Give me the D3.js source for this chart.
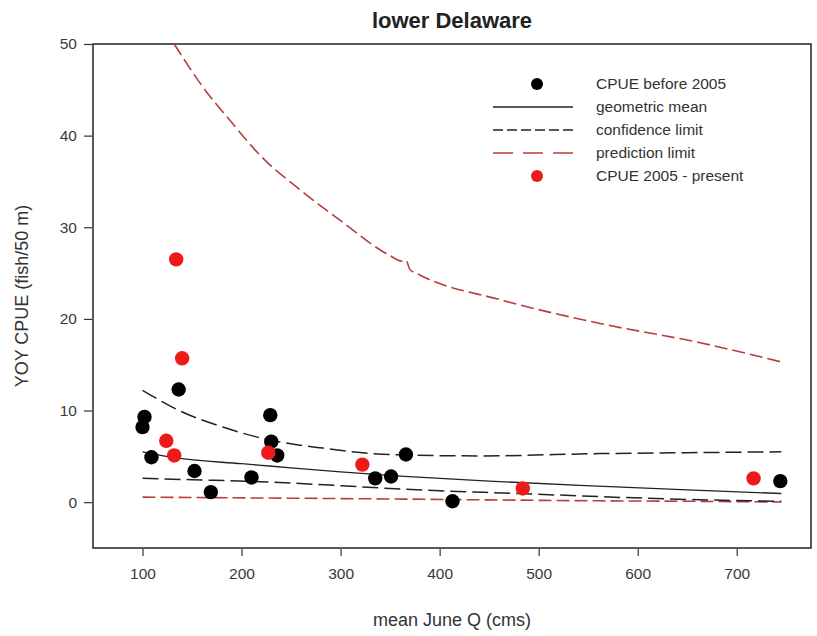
<!DOCTYPE html>
<meta charset="utf-8">
<body style="margin:0;background:#fff">
<div id="chart"></div>
<script src="https://cdn.jsdelivr.net/npm/d3@7"></script>
<script>
// observed CPUE points
const beforeQ = [102, 100, 109, 136.5, 152.5, 169, 210, 229, 230, 236, 335, 351, 366, 413, 744];
const beforeCPUE = [9.3, 8.2, 4.9, 12.3, 3.4, 1.1, 2.7, 9.5, 6.6, 5.1, 2.6, 2.8, 5.2, 0.1, 2.3];
const recentQ = [134, 140, 124, 132, 227, 322, 484, 717];
const recentCPUE = [26.5, 15.7, 6.7, 5.1, 5.4, 4.1, 1.5, 2.6];

// fitted curves
const meanQ = [100, 136, 200, 228, 300, 360, 450, 560, 650, 745];
const meanY = [5.5, 4.8, 4.2, 3.95, 3.3, 2.85, 2.3, 1.75, 1.35, 0.95];
const confQ = [100, 137, 181, 228, 282, 350, 440, 562, 650, 745];
const confUpper = [12.2, 10.0, 8.2, 6.8, 5.9, 5.2, 5.05, 5.3, 5.4, 5.5];
const confLowQ = [100, 150, 228, 300, 350, 400, 480, 562, 650, 745];
const confLower = [2.6, 2.45, 2.2, 1.8, 1.5, 1.25, 0.95, 0.6, 0.3, 0.1];
const predQ = [100, 228, 350, 450, 560, 650, 745];
const predLower = [0.55, 0.45, 0.35, 0.25, 0.15, 0.1, 0.02];
const predUpQ = [132, 161, 188, 221, 259, 299, 350, 362, 366, 370, 380, 461, 562, 663, 745];
const predUpper = [50, 45.3, 41.7, 37.6, 34.1, 30.8, 26.9, 26.3, 26.4, 25.4, 24.8, 22.1, 19.5, 17.4, 15.3];

const xTicks = [100, 200, 300, 400, 500, 600, 700];
const yTicks = [0, 10, 20, 30, 40, 50];
const legendLabels = ["CPUE before 2005", "geometric mean", "confidence limit", "prediction limit", "CPUE 2005 - present"];

const width = 817, height = 636;
const margin = {left: 93, right: 6, top: 44, bottom: 88};
const predColor = "#b53e3e", dotRed = "#ee1a1a";

const svg = d3.select("#chart").append("svg")
    .attr("width", width)
    .attr("height", height)
    .style("font-family", "'Liberation Sans', Arial, sans-serif");

const x = d3.scaleLinear().domain([50, 775]).range([margin.left, width - margin.right]);
const y = d3.scaleLinear().domain([-5, 50]).range([height - margin.bottom, margin.top]);

svg.append("defs").append("clipPath").attr("id", "plot")
  .append("rect")
    .attr("x", x(50)).attr("y", y(50))
    .attr("width", x(775) - x(50)).attr("height", y(-5) - y(50));

// axes
const xAxis = svg.append("g")
    .attr("transform", "translate(0," + (y(-5) + 1) + ")")
    .call(d3.axisBottom(x).tickValues(xTicks).tickSize(7).tickPadding(12));
const yAxis = svg.append("g")
    .attr("transform", "translate(" + (x(50) - 1) + ",0)")
    .call(d3.axisLeft(y).tickValues(yTicks).tickSize(8).tickPadding(7));
[xAxis, yAxis].forEach(a => {
    a.select(".domain").remove();
    a.selectAll("line").attr("stroke", "#333").attr("stroke-width", 1.2);
    a.selectAll("text").style("font-size", "15.5px").attr("fill", "#3a3a3a")
        .style("font-family", "'Liberation Sans', Arial, sans-serif");
});

// frame
svg.append("rect")
    .attr("x", x(50)).attr("y", y(50))
    .attr("width", x(775) - x(50)).attr("height", y(-5) - y(50))
    .attr("fill", "none").attr("stroke", "#222").attr("stroke-width", 1.5);

const line = d3.line().x(d => x(d[0])).y(d => y(d[1])).curve(d3.curveMonotoneX);
const zip = (a, b) => a.map((v, i) => [v, b[i]]);

const plot = svg.append("g").attr("clip-path", "url(#plot)");

const curves = [
    {data: zip(predUpQ, predUpper), color: predColor, dash: "13,5", w: 1.6},
    {data: zip(predQ, predLower), color: predColor, dash: "13,5", w: 1.6},
    {data: zip(confQ, confUpper), color: "#222", dash: "16,6", w: 1.5},
    {data: zip(confLowQ, confLower), color: "#222", dash: "16,6", w: 1.5},
    {data: zip(meanQ, meanY), color: "#222", dash: null, w: 1.3}
];
curves.forEach(c => {
    plot.append("path")
        .attr("d", line(c.data))
        .attr("fill", "none")
        .attr("stroke", c.color)
        .attr("stroke-width", c.w)
        .attr("stroke-dasharray", c.dash);
});

plot.selectAll(".before")
    .data(zip(beforeQ, beforeCPUE))
    .enter().append("circle")
    .attr("cx", d => x(d[0])).attr("cy", d => y(d[1]))
    .attr("r", 7.2).attr("fill", "#000");

plot.selectAll(".recent")
    .data(zip(recentQ, recentCPUE))
    .enter().append("circle")
    .attr("cx", d => x(d[0])).attr("cy", d => y(d[1]))
    .attr("r", 7.2).attr("fill", dotRed);

// titles
svg.append("text")
    .attr("x", (x(50) + x(775)) / 2).attr("y", 28)
    .attr("text-anchor", "middle")
    .style("font-size", "22px").style("font-weight", "bold").attr("fill", "#222")
    .text("lower Delaware");

svg.append("text")
    .attr("x", (x(50) + x(775)) / 2).attr("y", 626)
    .attr("text-anchor", "middle")
    .style("font-size", "18px").attr("fill", "#333")
    .text("mean June Q (cms)");

svg.append("text")
    .attr("transform", "translate(28," + ((y(50) + y(-5)) / 2) + ") rotate(-90)")
    .attr("text-anchor", "middle")
    .style("font-size", "18px").attr("fill", "#333")
    .text("YOY CPUE (fish/50 m)");

// legend
const legend = svg.append("g").attr("transform", "translate(493, 84)");
const rowH = 23;
legend.selectAll("text")
    .data(legendLabels)
    .enter().append("text")
    .attr("x", 103).attr("y", (d, i) => i * rowH + 5)
    .style("font-size", "15.5px").attr("fill", "#333")
    .text(d => d);
legend.append("circle").attr("cx", 44).attr("cy", 0).attr("r", 6).attr("fill", "#000");
legend.append("line").attr("x1", 0).attr("x2", 80).attr("y1", rowH).attr("y2", rowH)
    .attr("stroke", "#222").attr("stroke-width", 1.5);
legend.append("line").attr("x1", 0).attr("x2", 80).attr("y1", rowH * 2).attr("y2", rowH * 2)
    .attr("stroke", "#222").attr("stroke-width", 1.5).attr("stroke-dasharray", "10,4");
legend.append("line").attr("x1", 0).attr("x2", 80).attr("y1", rowH * 3).attr("y2", rowH * 3)
    .attr("stroke", predColor).attr("stroke-width", 1.6).attr("stroke-dasharray", "20,10");
legend.append("circle").attr("cx", 44).attr("cy", rowH * 4).attr("r", 6).attr("fill", dotRed);
</script>
</body>
